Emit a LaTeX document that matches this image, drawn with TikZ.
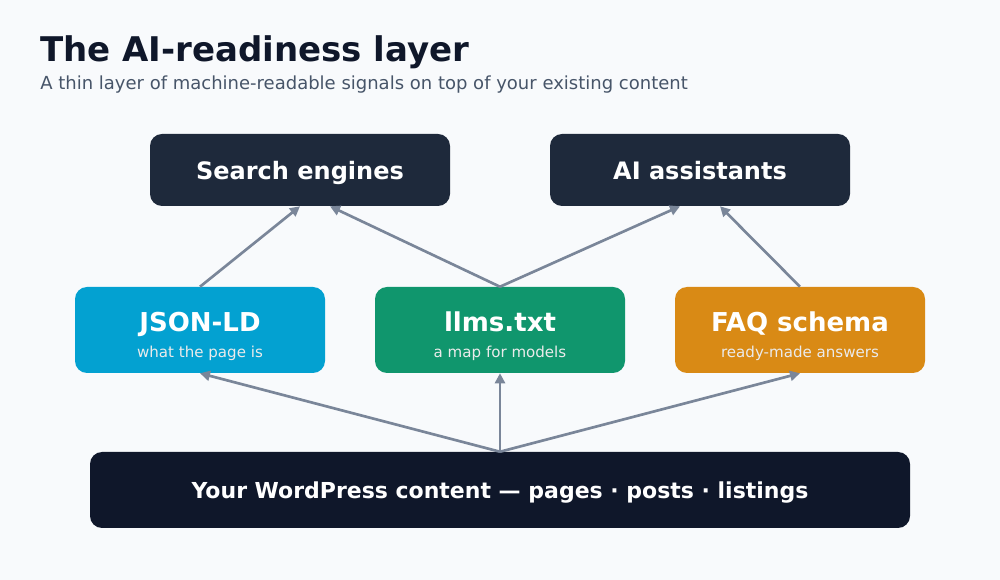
\documentclass[tikz,border=0pt]{standalone}
\usepackage{fontspec}
\setmainfont{DejaVu Sans}
\usetikzlibrary{arrows.meta}

\definecolor{pagebg}{HTML}{F8FAFC}
\definecolor{inkdark}{HTML}{0F172A}
\definecolor{slatebox}{HTML}{1E293B}
\definecolor{subgrey}{HTML}{475569}
\definecolor{linkgrey}{HTML}{7A8699}
\definecolor{jsonblue}{HTML}{03A1D1}
\definecolor{llmsgreen}{HTML}{10966D}
\definecolor{faqorange}{HTML}{D98A15}

\tikzset{
  consumer/.style={fill=slatebox, rounded corners=9pt, minimum width=225pt,
    minimum height=54pt, text=white, text depth=0pt,
    font=\bfseries\fontsize{18}{20}\selectfont},
  card/.style={rounded corners=9pt, minimum width=187.5pt, minimum height=64.5pt},
  cardtitle/.style={anchor=base, text=white, inner sep=0pt,
    font=\bfseries\fontsize{19.5}{22}\selectfont},
  cardsub/.style={anchor=base, text=white!92!black, inner sep=0pt,
    font=\fontsize{11.3}{13}\selectfont},
  source/.style={fill=inkdark, rounded corners=9pt, minimum width=615pt,
    minimum height=57pt, text=white, text depth=0pt,
    font=\bfseries\fontsize{16.5}{19}\selectfont},
  link/.style={draw=linkgrey, line width=2pt, -{Triangle[length=7.5pt,width=7.5pt]}}
}

\begin{document}
\begin{tikzpicture}[x=0.75pt, y=-0.75pt]
    % Page
    \fill[pagebg] (0,0) rectangle (1000,580);
    \useasboundingbox (0,0) rectangle (1000,580);

    % Heading
    \node[anchor=base west, inner sep=0pt, text=inkdark,
      font=\bfseries\fontsize{25.5}{29}\selectfont] (title) at (40,62) {The AI-readiness layer};
    \node[anchor=base west, inner sep=0pt, text=subgrey,
      font=\fontsize{13.5}{16}\selectfont] (subtitle) at (40,90)
      {A thin layer of machine-readable signals on top of your existing content};

    % Consumers
    \node[consumer] (search) at (300,170) {Search engines};
    \node[consumer] (assist) at (700,170) {AI assistants};

    % Signal cards
    \node[card, fill=jsonblue] (json) at (200,330) {};
    \node[card, fill=llmsgreen] (llms) at (500,330) {};
    \node[card, fill=faqorange] (faq) at (800,330) {};
    \node[cardtitle] (jsont) at (200,332) {JSON-LD};
    \node[cardsub] (jsons) at (200,358) {what the page is};
    \node[cardtitle] (llmst) at (500,332) {llms.txt};
    \node[cardsub] (llmss) at (500,358) {a map for models};
    \node[cardtitle] (faqt) at (800,332) {FAQ schema};
    \node[cardsub] (faqs) at (800,358) {ready-made answers};

    % Content
    \node[source] (content) at (500,490) {Your WordPress content — pages · posts · listings};

    % Cards up to consumers
    \draw[link] (json.north) -- (search.south);
    \draw[link] (llms.north) -- ([xshift=22.5pt]search.south);
    \draw[link] (llms.north) -- ([xshift=-15pt]assist.south);
    \draw[link] (faq.north) -- ([xshift=15pt]assist.south);

    % Content up to cards
    \draw[link] (content.north) -- (json.south);
    \draw[link] (content.north) -- (llms.south);
    \draw[link] (content.north) -- (faq.south);
\end{tikzpicture}
\end{document}
